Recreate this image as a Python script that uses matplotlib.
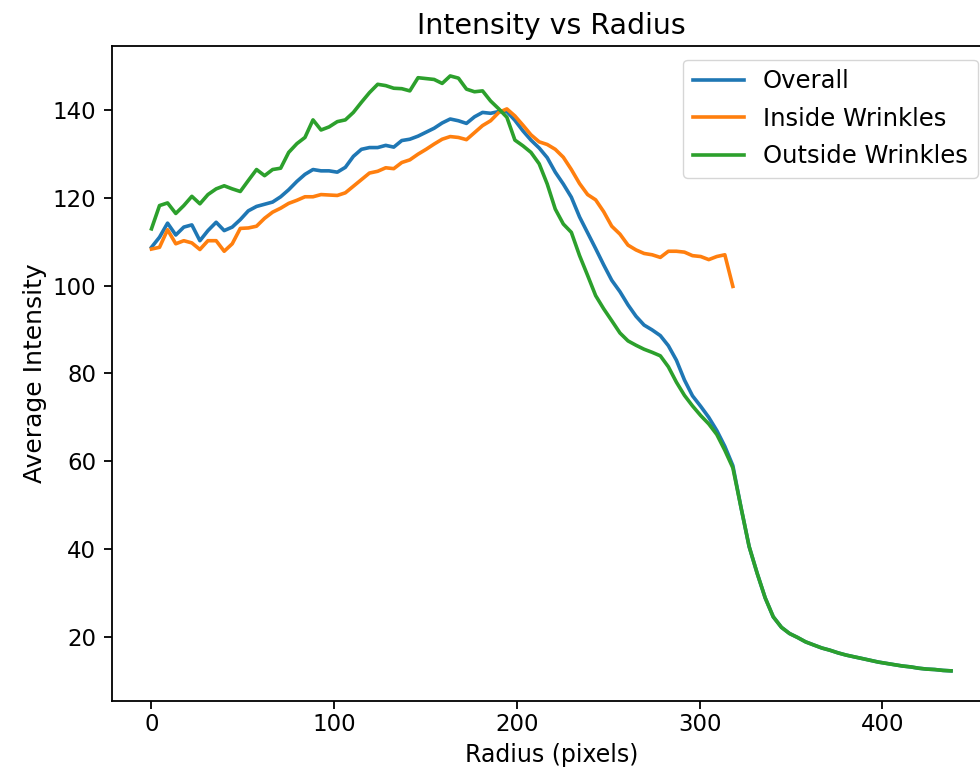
import matplotlib
matplotlib.use("Agg")
import matplotlib.pyplot as plt

# radius bins (pixels)
radius = [
    0.0, 4.4, 8.8, 13.3, 17.7, 22.1, 26.5, 30.9, 35.4, 39.8,
    44.2, 48.6, 53.0, 57.5, 61.9, 66.3, 70.7, 75.1, 79.6, 84.0,
    88.4, 92.8, 97.2, 101.7, 106.1, 110.5, 114.9, 119.3, 123.8, 128.2,
    132.6, 137.0, 141.4, 145.9, 150.3, 154.7, 159.1, 163.5, 168.0, 172.4,
    176.8, 181.2, 185.6, 190.1, 194.5, 198.9, 203.3, 207.7, 212.2, 216.6,
    221.0, 225.4, 229.8, 234.3, 238.7, 243.1, 247.5, 251.9, 256.4, 260.8,
    265.2, 269.6, 274.0, 278.5, 282.9, 287.3, 291.7, 296.1, 300.6, 305.0,
    309.4, 313.8, 318.2, 322.7, 327.1, 331.5, 335.9, 340.3, 344.8, 349.2,
    353.6, 358.0, 362.4, 366.9, 371.3, 375.7, 380.1, 384.5, 389.0, 393.4,
    397.8, 402.2, 406.6, 411.1, 415.5, 419.9, 424.3, 428.7, 433.2, 437.6,
]

overall = [
    108.7, 111.0, 114.2, 111.5, 113.3, 113.8, 110.2, 112.5, 114.4, 112.5,
    113.3, 115.0, 117.0, 118.0, 118.5, 119.0, 120.2, 121.8, 123.7, 125.3,
    126.4, 126.1, 126.1, 125.8, 126.9, 129.4, 131.0, 131.4, 131.4, 131.9,
    131.5, 133.0, 133.3, 134.0, 134.9, 135.8, 137.0, 137.9, 137.5, 136.9,
    138.4, 139.4, 139.2, 139.6, 139.6, 137.6, 135.2, 133.1, 131.3, 129.1,
    125.8, 123.1, 120.1, 115.6, 112.0, 108.4, 104.7, 101.2, 98.6, 95.6,
    93.0, 91.0, 89.9, 88.6, 86.3, 83.0, 78.5, 74.9, 72.5, 70.0,
    67.0, 63.4, 59.0, 49.4, 40.6, 34.5, 28.9, 24.6, 22.2, 20.8,
    19.9, 18.9, 18.2, 17.5, 17.0, 16.4, 15.9, 15.5, 15.1, 14.7,
    14.3, 14.0, 13.7, 13.4, 13.2, 12.9, 12.7, 12.6, 12.4, 12.3,
]

inside = [
    108.3, 108.7, 112.7, 109.5, 110.2, 109.7, 108.2, 110.2, 110.2, 107.8,
    109.5, 113.0, 113.1, 113.5, 115.3, 116.7, 117.6, 118.7, 119.4, 120.2,
    120.2, 120.7, 120.6, 120.5, 121.1, 122.6, 124.1, 125.6, 126.0, 126.8,
    126.6, 128.0, 128.6, 129.9, 131.0, 132.2, 133.3, 133.9, 133.7, 133.2,
    134.8, 136.4, 137.5, 139.4, 140.2, 138.6, 136.5, 134.3, 132.7, 132.1,
    131.0, 129.2, 126.4, 123.2, 120.7, 119.5, 116.8, 113.5, 111.7, 109.2,
    108.1, 107.3, 107.0, 106.4, 107.8, 107.8, 107.6, 106.8, 106.6, 105.9,
    106.6, 107.0, 99.8,
]

outside = [
    112.9, 118.2, 118.8, 116.4, 118.2, 120.3, 118.6, 120.7, 122.0, 122.7,
    122.0, 121.4, 123.9, 126.4, 125.0, 126.4, 126.7, 130.3, 132.3, 133.7,
    137.7, 135.4, 136.1, 137.3, 137.7, 139.4, 141.7, 143.9, 145.8, 145.5,
    144.9, 144.8, 144.3, 147.3, 147.1, 146.9, 146.0, 147.7, 147.2, 144.7,
    144.1, 144.3, 142.0, 140.2, 138.3, 133.1, 131.8, 130.3, 127.7, 123.1,
    117.4, 114.0, 112.1, 106.8, 102.3, 97.7, 94.7, 92.0, 89.2, 87.4,
    86.4, 85.5, 84.8, 84.0, 81.5, 78.0, 75.0, 72.6, 70.4, 68.5,
    66.1, 62.5, 58.5, 49.4, 40.6, 34.5, 28.9, 24.6, 22.2, 20.8,
    19.9, 18.9, 18.2, 17.5, 17.0, 16.4, 15.9, 15.5, 15.1, 14.7,
    14.3, 14.0, 13.7, 13.4, 13.2, 12.9, 12.7, 12.6, 12.4, 12.3,
]

plt.rcParams['font.family'] = ['DejaVu Sans']
plt.rcParams['axes.linewidth'] = 1.3

fig = plt.figure(figsize=(9.8, 7.78), dpi=100)
# right spine sits just past the image edge, as in the reference crop
ax = fig.add_axes([111.5 / 980, 77.4 / 778, (991 - 111.5) / 980, (731.8 - 77.4) / 778])

lw = 2.6
ax.plot(radius, overall, color='C0', lw=lw, label='Overall')
ax.plot(radius[:len(inside)], inside, color='C1', lw=lw, label='Inside Wrinkles')
ax.plot(radius, outside, color='C2', lw=lw, label='Outside Wrinkles')

ax.set_xticks([0, 100, 200, 300, 400])
ax.set_yticks([20, 40, 60, 80, 100, 120, 140])
ax.tick_params(labelsize=16.5, length=6, width=1.3)
ax.tick_params(axis='x', pad=3)
ax.tick_params(axis='y', pad=5)

ax.set_title('Intensity vs Radius', fontsize=20.5, pad=9)
ax.set_xlabel('Radius (pixels)', fontsize=17, labelpad=5)
ax.set_ylabel('Average Intensity', fontsize=18, labelpad=4)

ax.legend(loc='upper right', fontsize=17.5, borderaxespad=0.55, handlelength=2.1,
          labelspacing=0.55, handletextpad=0.8)

fig.savefig('out.png', dpi=100)
